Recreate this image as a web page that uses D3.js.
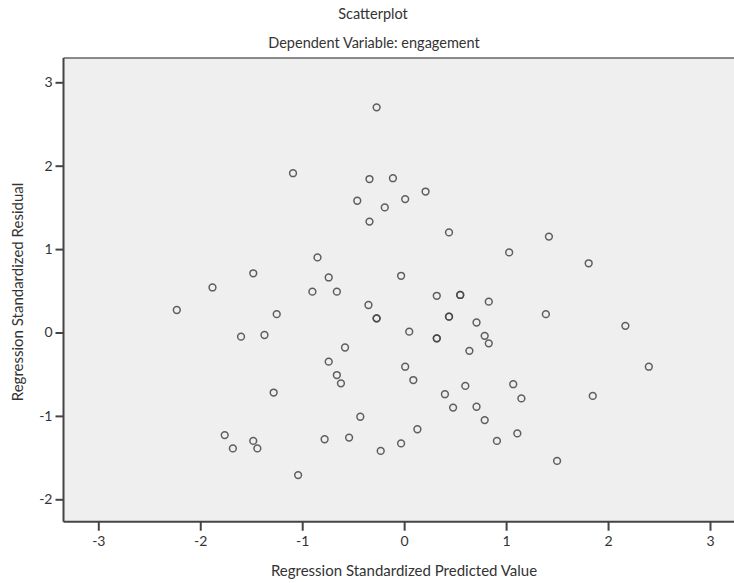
<!DOCTYPE html>
<html>
<head>
<meta charset="utf-8">
<script src="https://cdn.jsdelivr.net/npm/d3@7"></script>
<style>
  body { margin: 0; background: #fff; }
  svg text { font-family: Lato, "Open Sans", sans-serif; fill: #333; }
</style>
</head>
<body>
<div id="chart"></div>
<script>
const width = 734;
const height = 583;

// standardized predicted values (x) and residuals (y)
const predicted = [
  -0.27, -1.09, -0.34, -0.11, -0.46, -0.19, -0.34, -0.85, -1.48, -0.74,
  -0.03, 0.01, 0.21, 0.44, 1.42, 1.03, 1.81, -1.88, -2.23, -1.25,
  -0.90, -0.66, -0.35, -0.27, -0.27, -1.60, -1.37, -0.58, -0.74, -0.66,
  -0.62, -1.28, -0.43, -1.76, -1.68, -1.48, -1.44, -0.78, -0.54, -0.23,
  -0.03, 0.32, 0.55, 0.55, 0.83, 1.39, 2.17, 0.44, 0.44, 0.71,
  0.05, 0.32, 0.32, 0.79, 0.83, 0.64, 0.01, 0.09, 0.60, 1.07,
  0.40, 1.15, 1.85, 0.48, 0.71, 0.79, 0.13, 1.11, 0.91, 1.50,
  2.40, -1.04
];
const residual = [
  2.70, 1.91, 1.84, 1.85, 1.58, 1.50, 1.33, 0.90, 0.71, 0.66,
  0.68, 1.60, 1.69, 1.20, 1.15, 0.96, 0.83, 0.54, 0.27, 0.22,
  0.49, 0.49, 0.33, 0.17, 0.17, -0.05, -0.03, -0.18, -0.35, -0.51,
  -0.61, -0.72, -1.01, -1.23, -1.39, -1.30, -1.39, -1.28, -1.26, -1.42,
  -1.33, 0.44, 0.45, 0.45, 0.37, 0.22, 0.08, 0.19, 0.19, 0.12,
  0.01, -0.07, -0.07, -0.04, -0.13, -0.22, -0.41, -0.57, -0.64, -0.62,
  -0.74, -0.79, -0.76, -0.90, -0.89, -1.05, -1.16, -1.21, -1.30, -1.54,
  -0.41, -1.71
];
const xTicks = [-3, -2, -1, 0, 1, 2, 3];
const yTicks = [-2, -1, 0, 1, 2, 3];

const points = predicted.map((v, i) => ({x: v, y: residual[i]}));

const plot = {left: 63.5, top: 58, bottom: 521.7, right: 740};

const x = d3.scaleLinear().domain([-3, 3]).range([98.3, 710]);
const y = d3.scaleLinear().domain([-2, 3]).range([499.3, 82.3]);

// SPSS prints a plain hyphen for negatives
const fmt = d => String(d);

const svg = d3.select("#chart").append("svg")
  .attr("width", width)
  .attr("height", height);

svg.append("rect")
  .attr("x", plot.left)
  .attr("y", plot.top)
  .attr("width", plot.right - plot.left)
  .attr("height", plot.bottom - plot.top)
  .attr("fill", "#efefef");

// top frame line
svg.append("line")
  .attr("x1", plot.left).attr("x2", plot.right)
  .attr("y1", plot.top).attr("y2", plot.top)
  .attr("stroke", "#666").attr("stroke-width", 1.5);

// titles
svg.append("text")
  .attr("x", 373).attr("y", 19)
  .attr("text-anchor", "middle")
  .style("font-size", "14.5px")
  .text("Scatterplot");

svg.append("text")
  .attr("x", 374).attr("y", 48)
  .attr("text-anchor", "middle")
  .style("font-size", "14.5px")
  .text("Dependent Variable: engagement");

// axes
const xAxis = d3.axisBottom(x).tickValues(xTicks).tickSize(9).tickPadding(5).tickFormat(fmt);
const yAxis = d3.axisLeft(y).tickValues(yTicks).tickSize(8).tickPadding(3).tickFormat(fmt);

const gx = svg.append("g")
  .attr("transform", `translate(0,${plot.bottom})`)
  .call(xAxis);
gx.select(".domain").remove();
gx.append("line")
  .attr("x1", plot.left).attr("x2", plot.right)
  .attr("stroke", "#444").attr("stroke-width", 2);

const gy = svg.append("g")
  .attr("transform", `translate(${plot.left},0)`)
  .call(yAxis);
gy.select(".domain").remove();
gy.append("line")
  .attr("y1", plot.top).attr("y2", plot.bottom)
  .attr("stroke", "#444").attr("stroke-width", 2);

svg.selectAll(".tick line").attr("stroke", "#444").attr("stroke-width", 2);
svg.selectAll(".tick text")
  .style("font-size", "14px")
  .style("font-family", "Lato, 'Open Sans', sans-serif")
  .attr("fill", "#2a2a2a");

// axis titles
svg.append("text")
  .attr("x", 404).attr("y", 576)
  .attr("text-anchor", "middle")
  .style("font-size", "15px")
  .text("Regression Standardized Predicted Value");

svg.append("text")
  .attr("transform", "translate(23,292) rotate(-90)")
  .attr("text-anchor", "middle")
  .style("font-size", "15px")
  .text("Regression Standardized Residual");

// points
svg.append("g").selectAll("circle")
  .data(points)
  .enter().append("circle")
  .attr("cx", d => x(d.x))
  .attr("cy", d => y(d.y))
  .attr("r", 3.4)
  .attr("fill", "none")
  .attr("stroke", "#444")
  .attr("stroke-opacity", 0.85)
  .attr("stroke-width", 1.5);
</script>
</body>
</html>
